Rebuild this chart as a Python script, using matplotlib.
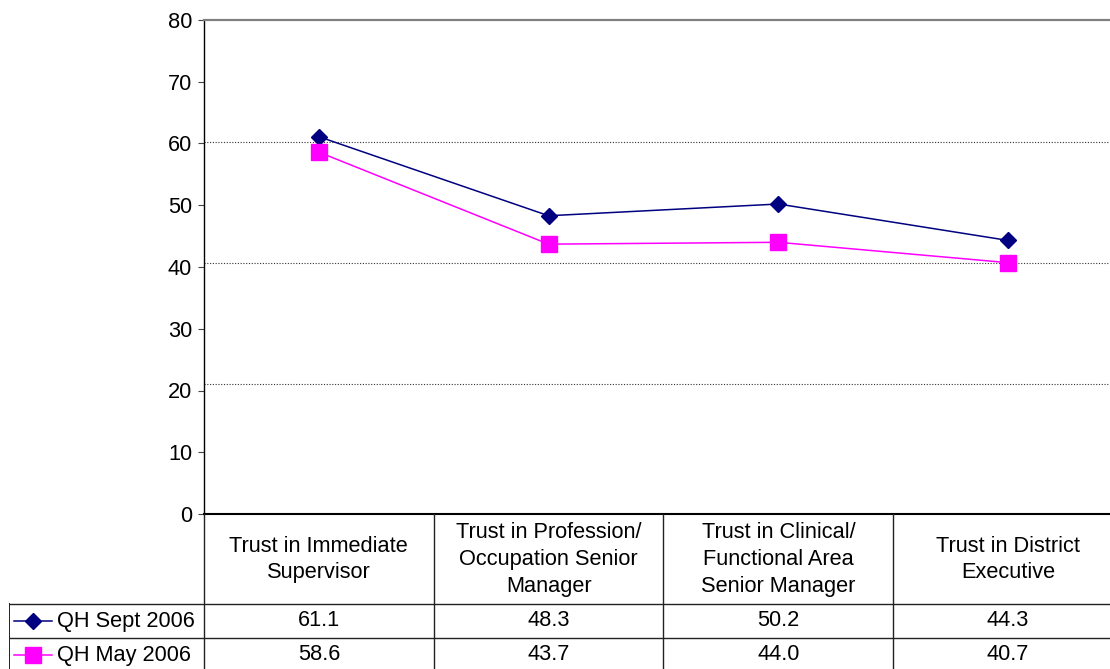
import matplotlib
matplotlib.use('Agg')
import matplotlib.pyplot as plt
import numpy as np

plt.rcParams['font.family'] = ['Liberation Sans', 'DejaVu Sans']

# data
categories = ['Trust in Immediate\nSupervisor',
              'Trust in Profession/\nOccupation Senior\nManager',
              'Trust in Clinical/\nFunctional Area\nSenior Manager',
              'Trust in District\nExecutive']
series_names = ['QH Sept 2006', 'QH May 2006']
sept_2006 = [61.1, 48.3, 50.2, 44.3]
may_2006 = [58.6, 43.7, 44.0, 40.7]
y_ticks = [0, 10, 20, 30, 40, 50, 60, 70, 80]
grid_levels = [21.0, 40.6, 60.2]   # dotted lines as drawn in the source

colors = ['#000080', '#FF00FF']
markers = ['D', 's']
msizes = [8.5, 12]

W, H = 1110, 669
fig = plt.figure(figsize=(W / 100, H / 100), dpi=100)
fs = 15.7

# pixel layout of the original
left_px, right_px = 204, 1123
top_px, zero_px = 20, 514
col_w = (right_px - left_px) / 4.0
label_px = 9

ax = fig.add_axes([left_px / W, 1 - zero_px / H,
                   (right_px - left_px) / W, (zero_px - top_px) / H])
x = np.arange(len(categories))
for vals, c, m, ms in zip([sept_2006, may_2006], colors, markers, msizes):
    ax.plot(x, vals, color=c, lw=1.1, marker=m, ms=ms, mec=c, mfc=c, zorder=3)

for g in grid_levels:
    ax.axhline(g, color='#333333', lw=0.8, ls=(0, (1, 1.5)), zorder=1)

ax.set_xlim(-0.5, 3.5)
ax.set_ylim(0, 80)
ax.set_yticks(y_ticks)
ax.set_xticks([])
ax.tick_params(axis='y', direction='out', length=4.5, width=0.8,
               color='#444444', labelsize=fs, pad=4)
ax.spines['top'].set_color('#808080')
ax.spines['top'].set_linewidth(1.6)
ax.spines['right'].set_visible(False)
ax.spines['left'].set_linewidth(1.0)
ax.spines['bottom'].set_linewidth(1.5)

# data table under the chart
tab_bottom_px = 672
tax = fig.add_axes([label_px / W, 1 - tab_bottom_px / H,
                    (right_px - label_px) / W, (tab_bottom_px - zero_px) / H])
tax.set_xlim(-0.5 - (left_px - label_px) / col_w, 3.5)
tax.set_ylim(tab_bottom_px - zero_px, 0)
tax.axis('off')

head_h = 90
row_h = 34
lc = '#222222'
lw = 1.0
xl = -0.5 - (left_px - label_px) / col_w
# vertical lines
for i in range(len(categories) + 1):
    tax.plot([i - 0.5, i - 0.5], [0, head_h + 2 * row_h], color=lc, lw=lw)
tax.plot([xl, xl], [head_h, head_h + 2 * row_h], color=lc, lw=1.4)
for k in range(2):
    yy = head_h + k * row_h
    tax.plot([xl, 3.5], [yy, yy], color=lc, lw=lw)

for i, cat in enumerate(categories):
    tax.text(i, head_h / 2 + 0.5, cat, ha='center', va='center', fontsize=fs,
             linespacing=1.36)

for k, (name, vals, c, m, ms) in enumerate(zip(series_names,
                                               [sept_2006, may_2006],
                                               colors, markers, msizes)):
    yc = head_h + k * row_h + row_h / 2
    for i, v in enumerate(vals):
        tax.text(i, yc, f'{v:.1f}', ha='center', va='center', fontsize=fs)
    x0 = xl + 5 / col_w
    x1 = xl + 43 / col_w
    tax.plot([x0, x1], [yc, yc], color=c, lw=1.1)
    tax.plot([(x0 + x1) / 2], [yc], marker=m, ms=ms, color=c, mec=c)
    tax.text(xl + 48 / col_w, yc, name, ha='left', va='center', fontsize=fs)

fig.savefig('out.png', dpi=100)
